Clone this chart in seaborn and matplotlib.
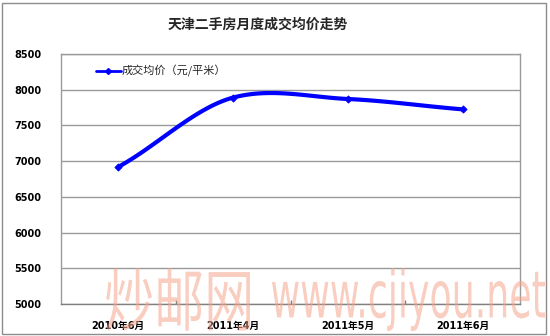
import numpy as np
import pandas as pd
import matplotlib
matplotlib.use('Agg')
import matplotlib.pyplot as plt
import seaborn as sns
from matplotlib.lines import Line2D
from matplotlib.patches import Rectangle, PathPatch
from matplotlib.textpath import TextPath
from matplotlib.font_manager import FontProperties
from matplotlib.transforms import Affine2D, IdentityTransform

# ---- data ----
months = ['2010年6月', '2011年4月', '2011年5月', '2011年6月']
prices = [6920, 7890, 7870, 7725]
yticks = [5000, 5500, 6000, 6500, 7000, 7500, 8000, 8500]
title = '天津二手房月度成交均价走势'
series_name = '成交均价（元/平米）'
watermark_cn = '炒邮网'
watermark_en = 'www.cjiyou.net'

sns.set_theme(style='white')
plt.rcParams['font.family'] = ['DejaVu Sans', 'Noto Sans CJK SC']

W, H = 550, 336
fig = plt.figure(figsize=(W / 100, H / 100), dpi=100)
fig.patch.set_facecolor('white')
ax = fig.add_axes([61 / W, (H - 304) / H, 459 / W, 250 / H])

# smooth curve (Catmull-Rom through the data points, like Excel smoothing)
x = np.arange(len(prices), dtype=float)
y = np.array(prices, dtype=float)
xs, ys = [], []
for i in range(len(x) - 1):
    p0 = y[i - 1] if i > 0 else y[i]
    p3 = y[i + 2] if i + 2 < len(y) else y[i + 1]
    m1 = 0.9 * (y[i + 1] - p0) / (2 if i > 0 else 1)
    m2 = 0.9 * (p3 - y[i]) / (2 if i + 2 < len(y) else 1)
    t = np.linspace(0, 1, 40)
    h00 = 2 * t**3 - 3 * t**2 + 1
    h10 = t**3 - 2 * t**2 + t
    h01 = -2 * t**3 + 3 * t**2
    h11 = t**3 - t**2
    xs.extend(x[i] + t)
    ys.extend(h00 * y[i] + h10 * m1 + h01 * y[i + 1] + h11 * m2)
curve = pd.DataFrame({'x': xs, 'y': ys})
pts = pd.DataFrame({'x': x, 'y': y})

sns.lineplot(data=curve, x='x', y='y', ax=ax, color='#0000ff', linewidth=3.0,
             sort=False, estimator=None, zorder=3)
sns.scatterplot(data=pts, x='x', y='y', ax=ax, color='#0000ff', marker='D',
                s=14, edgecolor='#0000ff', linewidth=0.5, zorder=4)

ax.set_xlim(-0.5, len(months) - 0.5)
ax.set_ylim(5000, 8500)
ax.set_yticks(yticks)
ax.set_yticklabels([str(v) for v in yticks], fontsize=7, fontweight='bold', color='black')
ax.set_xticks(x)
ax.set_xticklabels(months, fontsize=7, fontweight='bold', color='black')
ax.set_xticks(np.arange(0.5, len(months) - 1, 1.0), minor=True)
ax.tick_params(axis='both', which='major', length=0)
ax.tick_params(axis='y', pad=14)
ax.tick_params(axis='x', pad=12)
ax.tick_params(axis='x', which='minor', direction='in', length=3, color='#808080', bottom=True)
ax.set_xlabel('')
ax.set_ylabel('')
ax.grid(axis='y', color='#9a9a9a', linewidth=1.0)
ax.grid(axis='x', visible=False)
for s in ax.spines.values():
    s.set_visible(True)
    s.set_color('#9a9a9a')
    s.set_linewidth(1.0)
ax.spines['bottom'].set_color('#808080')
ax.set_facecolor('white')

# legend
h = Line2D([0], [0], color='#0000ff', linewidth=2.0, marker='D', markersize=3)
ax.legend([h], [series_name], loc='upper left', bbox_to_anchor=(0.055, 0.995),
          frameon=False, handlelength=2.2, handletextpad=0.1,
          prop={'family': ['Noto Sans CJK SC', 'DejaVu Sans'], 'size': 8})

# title
fig.text(258 / W, 1 - 25 / H, title, ha='center', va='center', fontsize=10,
         fontweight='bold', family=['Noto Sans CJK SC', 'DejaVu Sans'])

# figure border
fig.patches.append(Rectangle((2 / W, 2 / H), 544 / W, 331 / H, transform=fig.transFigure,
                             fill=False, edgecolor='#8c8c8c', linewidth=1.0))

# watermark (stretched text); y given in image pixels from top
def add_stretched(text, family, x0, x1, ytop, ybot):
    tp = TextPath((0, 0), text, size=100, prop=FontProperties(family=family))
    bb = tp.get_extents()
    sx = (x1 - x0) / bb.width
    sy = (ybot - ytop) / bb.height
    tr = Affine2D().translate(-bb.x0, -bb.y0).scale(sx, sy).translate(x0, H - ybot) + IdentityTransform()
    patch = PathPatch(tp, transform=tr, facecolor='#f5a48c', edgecolor='none', alpha=0.55, zorder=10)
    fig.patches.append(patch)

add_stretched(watermark_cn, 'Noto Sans CJK SC', 106, 250, 268, 331)
add_stretched(watermark_en, 'Liberation Sans Narrow', 272, 545, 268, 331)

fig.savefig('out.png', dpi=100, facecolor='white')
